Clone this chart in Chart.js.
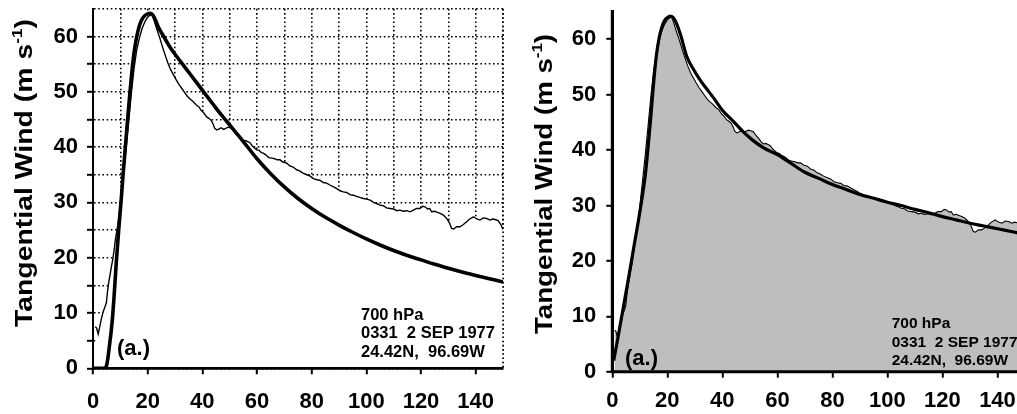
<!DOCTYPE html>
<html>
<head>
<meta charset="utf-8">
<script src="https://cdn.jsdelivr.net/npm/chart.js@4.4.1/dist/chart.umd.min.js"></script>
<style>
  html, body { margin: 0; padding: 0; background: #fff; overflow: hidden; }
  body { width: 1017px; height: 414px; position: relative; }
  .panel { position: absolute; top: 0; }
  #left { left: 0; }
  #right { left: 510px; }
</style>
</head>
<body>
<div class="panel" id="left"><canvas id="chartA" width="510" height="414"></canvas></div>
<div class="panel" id="right"><canvas id="chartB" width="525" height="414"></canvas></div>
<script>
// observed tangential wind profile (radius in km, wind in m/s)
const obsRadius = [0.8, 1.3, 1.9, 2.5, 3.0, 3.7, 4.3, 4.9, 5.3, 5.7, 6.2, 6.7, 7.2, 7.7, 8.1, 8.5, 9.0, 9.4, 9.9, 10.4,
  11, 12, 13, 14, 15, 16, 17, 18, 19, 20, 21, 21.6, 22.3, 23.3, 24.4, 25.5, 26.5, 27.4, 28.4, 29.4,
  30.5, 31.5, 32.5, 33.5, 34.5, 35.5, 36.5, 37.8, 38.7, 39.6, 40.5, 41.5, 42.4, 43.3, 44.0, 44.5, 45.3, 46.2, 46.9, 47.8,
  48.6, 49.4, 50.3, 51.3, 52.3, 53.2, 54.1, 55.0, 55.8, 56.6, 57.4, 58.3, 59.2, 59.9, 60.8, 61.6, 62.3, 63.2, 64.3, 65.4,
  66.4, 67.4, 68.4, 69.5, 70.9, 72.0, 73.2, 74.5, 75.6, 76.8, 78.2, 79.3, 80.6, 81.9, 83.0, 84.2, 85.5, 86.8, 88.0, 89.2,
  90.4, 91.6, 92.8, 94.0, 95.2, 96.4, 97.6, 98.9, 100.1, 101.4, 102.6, 103.8, 105.0, 106.2, 107.4, 108.7, 110.0, 111.2, 112.3, 113.5,
  114.8, 116.0, 117.2, 118.4, 119.6, 120.6, 121.5, 122.4, 123.2, 123.9, 125.0, 126.0, 127.0, 128.2, 129.4, 130.4, 131.2, 132.0, 133.0, 134.3,
  135.5, 136.7, 137.8, 139.2, 140.4, 141.6, 142.8, 144.0, 145.2, 146.2, 147.1, 148.2, 149.2, 150.0];
const obsWind = [7.5, 7.3, 6.2, 7.6, 8.8, 10.2, 11.0, 11.9, 13.8, 15.4, 16.8, 18.3, 19.6, 21.3, 22.9, 24.2, 25.6, 27.2, 29.3, 31.8,
  34.5, 39.3, 44.4, 49.6, 54.2, 57.6, 59.8, 61.5, 62.7, 63.5, 63.9, 64.0, 63.0, 61.4, 59.8, 58.0, 56.5, 55.2, 54.0, 53.1,
  52.1, 51.3, 50.6, 49.9, 49.2, 48.7, 48.3, 47.6, 47.3, 46.6, 46.2, 45.5, 45.2, 44.8, 44.1, 43.4, 43.1, 43.3, 43.5, 43.2,
  43.4, 43.6, 43.5, 43.3, 42.6, 42.1, 41.5, 41.1, 41.2, 41.0, 40.8, 40.2, 39.8, 39.5, 39.4, 39.0, 38.9, 38.6, 38.1, 38.0,
  37.9, 37.7, 37.7, 37.3, 37.1, 36.6, 36.4, 35.9, 35.7, 35.3, 35.0, 34.8, 34.3, 34.1, 34.0, 33.6, 33.5, 33.1, 32.8, 32.5,
  32.1, 31.9, 31.8, 31.4, 31.3, 31.1, 30.9, 30.7, 30.6, 30.4, 30.0, 29.8, 29.5, 29.4, 29.0, 28.9, 28.8, 28.5, 28.6, 28.4,
  28.5, 28.3, 28.6, 28.9, 28.9, 29.3, 29.2, 28.8, 28.9, 28.3, 28.4, 28.2, 28.0, 27.7, 27.1, 26.3, 25.3, 25.2, 25.6, 25.6,
  26.0, 26.5, 27.0, 27.4, 27.0, 26.8, 27.2, 27.1, 26.8, 27.0, 26.9, 26.7, 26.0, 25.1];

// fitted profile, left panel
const fitARadius = [0, 4.3, 5, 5.5, 6, 6.7, 7.2, 7.7, 8.5, 9.4, 10.4, 11, 12, 13, 14, 15, 16, 17, 18, 19,
  20, 21, 22, 23, 24, 26, 28, 30, 32, 34, 36, 38, 40, 42, 44, 46, 48, 50, 52, 55,
  60, 65, 70, 75, 80, 85, 90, 95, 100, 105, 110, 115, 120, 125, 130, 135, 140, 145, 150];
const fitAWind = [0, 0, 0.6, 2, 4, 6.9, 9.5, 12.9, 19, 25, 31, 35, 41, 47, 52.5, 57, 60, 62, 63.2, 63.8,
  64.1, 64.2, 63.8, 62.8, 61.6, 59.9, 58.2, 56.8, 55.5, 54.2, 52.9, 51.6, 50.3, 49, 47.7, 46.4, 45.2, 44, 42.8, 41,
  37.9, 35.2, 32.8, 30.7, 28.9, 27.3, 25.9, 24.6, 23.4, 22.3, 21.3, 20.4, 19.6, 18.8, 18.1, 17.4, 16.8, 16.2, 15.6];

// fitted profile, right panel
const fitBRadius = [0.5, 2, 4, 6, 8, 10, 12, 13, 14, 15, 16, 17, 18, 19, 20, 21, 22, 23, 24, 25,
  27, 29, 32, 35, 37, 40, 44, 48, 51, 55, 60, 65, 70, 75, 80, 85, 90, 95, 100, 105,
  110, 115, 120, 125, 130, 135, 140, 145, 150];
const fitBWind = [2, 6, 11.6, 17.2, 23, 28.8, 35.5, 40.5, 46, 52, 57, 60.2, 62.2, 63.4, 63.9, 64.2, 64, 63.2, 62, 60.5,
  57, 55, 52.6, 50.6, 49.3, 47.2, 45.2, 43.1, 41.8, 40.4, 39.2, 37.6, 36, 34.9, 33.8, 32.9, 32.0, 31.3, 30.6, 30.0,
  29.3, 28.7, 28.0, 27.4, 26.8, 26.3, 25.8, 25.3, 24.8];

const noteLines = ["700 hPa", "0331  2 SEP 1977", "24.42N,  96.69W"];
const panelTag = "(a.)";

const FONT = '"Liberation Sans", Arial, Helvetica, sans-serif';
Chart.defaults.font.family = FONT;
Chart.defaults.color = "#000";

function pts(xs, ys) {
  return xs.map((x, i) => ({ x: x, y: ys[i] }));
}

// rotated axis title with a superscript, stretched to the given length
function drawYTitle(ctx, bx, cy, size, len) {
  const main = "Tangential Wind (m s";
  const sup = "-1";
  const end = ")";
  const supSize = Math.round(size * 0.6);
  ctx.save();
  ctx.translate(bx, cy);
  ctx.rotate(-Math.PI / 2);
  ctx.textBaseline = "alphabetic";
  ctx.textAlign = "left";
  ctx.font = `bold ${size}px ${FONT}`;
  const w1 = ctx.measureText(main).width;
  const w3 = ctx.measureText(end).width;
  ctx.font = `bold ${supSize}px ${FONT}`;
  const w2 = ctx.measureText(sup).width;
  const total = w1 + w2 + w3;
  ctx.scale(len / total, 1);
  let x = -total / 2;
  ctx.font = `bold ${size}px ${FONT}`;
  ctx.fillText(main, x, 0);
  x += w1;
  ctx.font = `bold ${supSize}px ${FONT}`;
  ctx.fillText(sup, x, -size * 0.42);
  x += w2;
  ctx.font = `bold ${size}px ${FONT}`;
  ctx.fillText(end, x, 0);
  ctx.restore();
}

const decor = {
  id: "decor",
  afterDatasetsDraw(chart, args, o) {
    const { ctx, chartArea: a } = chart;
    ctx.save();
    ctx.strokeStyle = "#000";
    if (o.rightDotted) {
      ctx.lineWidth = 1.6;
      ctx.setLineDash([1.6, 2.6]);
      ctx.beginPath();
      ctx.moveTo(a.right, a.top);
      ctx.lineTo(a.right, a.bottom);
      ctx.stroke();
      ctx.setLineDash([]);
    }
    ctx.lineWidth = o.yAxisWidth;
    ctx.beginPath();
    ctx.moveTo(a.left, a.top - o.yAxisExtra);
    ctx.lineTo(a.left, a.bottom);
    ctx.stroke();
    ctx.lineWidth = o.xAxisWidth;
    ctx.beginPath();
    ctx.moveTo(a.left - o.yAxisWidth / 2, a.bottom);
    ctx.lineTo(a.right, a.bottom);
    ctx.stroke();

    ctx.fillStyle = "#000";
    drawYTitle(ctx, o.titleX, o.titleY, o.titleSize, o.titleLen);

    ctx.textBaseline = "alphabetic";
    ctx.textAlign = "left";
    ctx.font = `bold ${o.tagSize}px ${FONT}`;
    ctx.fillText(panelTag, o.tagX, o.tagY);
    ctx.font = `bold ${o.noteSize}px ${FONT}`;
    noteLines.forEach((t, i) => ctx.fillText(t, o.noteX, o.noteY + i * o.noteGap));
    ctx.restore();
  }
};

function makeScales(o) {
  const hide = "rgba(0,0,0,0)";
  return {
    x: {
      type: "linear",
      min: 0,
      max: 150,
      afterFit: s => { s.height = o.xHeight; s.paddingLeft = 0; s.paddingRight = 0; },
      ticks: {
        stepSize: 10,
        autoSkip: false,
        maxRotation: 0,
        padding: o.xPad,
        font: { size: 22, weight: "bold" },
        callback: v => (v % 20 === 0 ? String(v) : "")
      },
      grid: {
        drawOnChartArea: o.grid,
        color: "#000",
        lineWidth: 1.6,
        tickLength: 6,
        tickWidth: 2,
        tickColor: c => (c.tick && c.tick.value % 20 === 0 ? "#000" : hide)
      },
      border: { color: "#000", width: o.xAxisWidth, dash: [1.6, 2.6] }
    },
    y: {
      type: "linear",
      min: 0,
      max: 65,
      afterFit: s => { s.width = o.yWidth; s.paddingTop = 0; s.paddingBottom = 0; },
      ticks: {
        stepSize: 5,
        autoSkip: false,
        padding: o.yPad,
        font: { size: 22, weight: "bold" },
        callback: v => (v % 10 === 0 ? String(v) : "")
      },
      grid: {
        drawOnChartArea: o.grid,
        color: "#000",
        lineWidth: 1.6,
        tickLength: 6,
        tickWidth: 2,
        tickColor: c => (c.tick && c.tick.value % o.yTickEvery === 0 && c.tick.value < 65 ? "#000" : hide)
      },
      border: { color: "#000", width: o.yAxisWidth, dash: [1.6, 2.6] }
    }
  };
}

new Chart(document.getElementById("chartA"), {
  type: "line",
  data: {
    datasets: [
      { data: pts(fitARadius, fitAWind), borderColor: "#000", borderWidth: 3.6, pointRadius: 0, fill: false, cubicInterpolationMode: "monotone" },
      { data: pts(obsRadius, obsWind), borderColor: "#000", borderWidth: 1.4, pointRadius: 0, fill: "origin", backgroundColor: "#fff", tension: 0 }
    ]
  },
  options: {
    responsive: false,
    animation: false,
    events: [],
    layout: { padding: { top: 8.85, right: 7, bottom: 0, left: 0 } },
    scales: makeScales({ grid: true, xHeight: 45.7, yWidth: 93, xPad: 14, yPad: 9, yTickEvery: 5, xAxisWidth: 2.4, yAxisWidth: 2 }),
    plugins: {
      legend: { display: false },
      tooltip: { enabled: false },
      decor: {
        rightDotted: true, yAxisWidth: 2, xAxisWidth: 2.4, yAxisExtra: 0,
        titleX: 31.5, titleY: 173, titleSize: 23, titleLen: 308,
        tagX: 117, tagY: 355, tagSize: 22,
        noteX: 361, noteY: 319.5, noteGap: 18.6, noteSize: 16.5
      }
    }
  },
  plugins: [decor]
});

new Chart(document.getElementById("chartB"), {
  type: "line",
  data: {
    datasets: [
      { data: pts(fitBRadius, fitBWind), borderColor: "#000", borderWidth: 3.2, pointRadius: 0, fill: false, cubicInterpolationMode: "monotone" },
      { data: pts(obsRadius, obsWind), borderColor: "#000", borderWidth: 1.1, pointRadius: 0, fill: "origin", backgroundColor: "#bebebe", tension: 0 }
    ]
  },
  options: {
    responsive: false,
    animation: false,
    events: [],
    layout: { padding: { top: 11.6, right: 10, bottom: 0, left: 0 } },
    scales: makeScales({ grid: false, xHeight: 42.3, yWidth: 102.3, xPad: 10.5, yPad: 10, yTickEvery: 10, xAxisWidth: 3, yAxisWidth: 3 }),
    plugins: {
      legend: { display: false },
      tooltip: { enabled: false },
      decor: {
        rightDotted: false, yAxisWidth: 3, xAxisWidth: 3, yAxisExtra: 1.5,
        titleX: 41.5, titleY: 184, titleSize: 23, titleLen: 300,
        tagX: 115, tagY: 364.5, tagSize: 22,
        noteX: 381.7, noteY: 328, noteGap: 18.5, noteSize: 15.5
      }
    }
  },
  plugins: [decor]
});
</script>
</body>
</html>
